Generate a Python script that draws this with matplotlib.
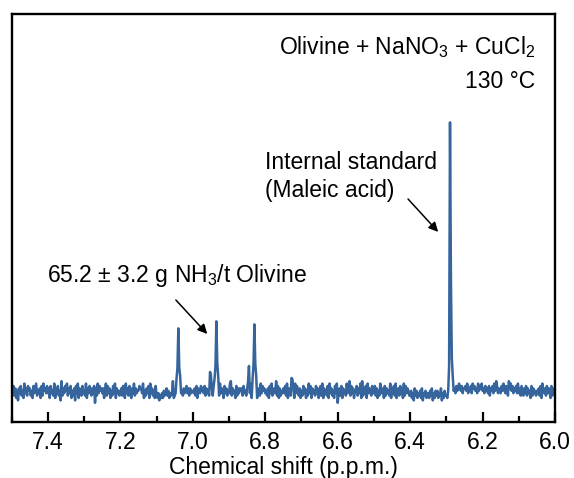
import numpy as np
import matplotlib.pyplot as plt

plt.rcParams['font.family'] = ['Liberation Sans', 'DejaVu Sans']
plt.rcParams['mathtext.fontset'] = 'custom'
plt.rcParams['mathtext.rm'] = 'Liberation Sans'
plt.rcParams['mathtext.it'] = 'Liberation Sans:italic'

# 1H NMR trace, 0.0025 ppm steps from 7.5 down to 6.0
shift_start, shift_step = 7.5, 0.0025
baseline_digits = (
    "54736251647352846375"   # 7.50
    "63527468354627385647"   # 7.45
    "46274538264735193647"   # 7.40
    "58364725361748265374"   # 7.35
    "53826475364706384756"   # 7.30
    "46258374625374826453"   # 7.25
    "46375284637526483645"   # 7.20
    "57364825364728463527"   # 7.15
    "32413242534635243142"   # 7.10
    "34526374536457463645"   # 7.05
    "54637265475647364537"   # 7.00
    "46375264738465274635"   # 6.95
    "48936452736465637453"   # 6.90
    "63748253647265384756"   # 6.85
    "45362748356493726354"   # 6.80
    "64738265374628475362"   # 6.75
    "53746253847264537462"   # 6.70
    "47382645372846352748"   # 6.65
    "04637264538469374625"   # 6.60
    "57364829364728465374"   # 6.55
    "47362538465273645382"   # 6.50
    "64738256374628374653"   # 6.45
    "35241635243526143524"   # 6.40
    "42536142535243614253"   # 6.35
    "32576867564756865746"   # 6.30
    "67584657486756485768"   # 6.25
    "56475647365748597465"   # 6.20
    "47586475396857465748"   # 6.15
    "46375364736452736453"   # 6.10
    "54637285463746527364"   # 6.05
    "5"                      # 6.00
)
noise_scale = 2.4

# peak intensities added on top of the baseline (ppm, intensity)
peak_shift = [7.145,
              7.0575, 7.055, 7.045, 7.0425, 7.040, 7.0375, 7.035,
              6.9525, 6.950, 6.940, 6.9375, 6.935, 6.9325, 6.930,
              6.8475, 6.845, 6.835, 6.8325, 6.830, 6.8275, 6.825,
              6.7275, 6.725,
              6.2925, 6.290, 6.2875, 6.285, 6.2825]
peak_height = [7,
               8, 12, 12, 30, 60, 28, 10,
               14, 18, 12, 32, 67, 30, 10,
               14, 20, 12, 31, 64, 29, 10,
               8, 14,
               20, 266, 105, 30, 10]

shift = shift_start - shift_step * np.arange(len(baseline_digits))
intensity = (np.array([int(c) for c in baseline_digits]) - 4.5) * noise_scale
for s, h in zip(peak_shift, peak_height):
    intensity[np.argmin(np.abs(shift - s))] += h

fig = plt.figure(figsize=(5.74, 4.78), dpi=100)
ax = fig.add_axes([0.0204, 0.1178, 0.9466, 0.853])
ax.plot(shift, intensity, color='#35659c', lw=1.8)

ax.set_xlim(7.5, 6.0)
ax.set_ylim(-29.7, 378)
ax.set_xticks(np.arange(6.0, 7.41, 0.2))
ax.set_xticks(np.arange(6.1, 7.51, 0.2), minor=True)
ax.set_yticks([])
ax.tick_params(axis='x', which='major', direction='in', length=7, width=1.6,
               labelsize=16.5, pad=7)
ax.tick_params(axis='x', which='minor', direction='in', length=4, width=1.6)
for sp in ax.spines.values():
    sp.set_linewidth(1.7)
ax.set_xlabel('Chemical shift (p.p.m.)', fontsize=16.5, labelpad=1)

ax.text(6.055, 345, 'Olivine + NaNO$_3$ + CuCl$_2$', fontsize=16.5,
        ha='right', va='center')
ax.text(6.055, 310, '130 °C', fontsize=16.5, ha='right', va='center')
ax.text(6.800, 229, 'Internal standard', fontsize=16.5, ha='left', va='center')
ax.text(6.800, 201, '(Maleic acid)', fontsize=16.5, ha='left', va='center')
ax.text(7.4025, 116, '65.2 ± 3.2 g NH$_3$/t Olivine', fontsize=16.5,
        ha='left', va='center')

arrow = dict(arrowstyle='-|>', color='black', lw=1.1, mutation_scale=14)
ax.annotate('', xy=(6.3175, 158), xytext=(6.411, 195), arrowprops=arrow)
ax.annotate('', xy=(6.955, 56), xytext=(7.052, 94), arrowprops=arrow)

fig.savefig('out.png', dpi=100)
